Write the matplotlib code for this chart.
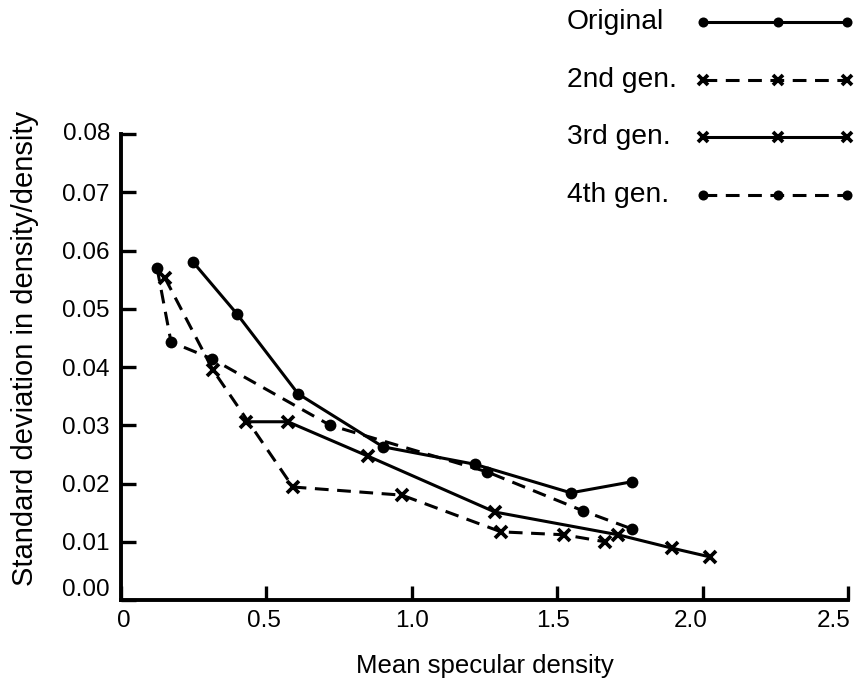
import matplotlib
matplotlib.use("Agg")
import matplotlib.pyplot as plt
from matplotlib.lines import Line2D
from matplotlib.transforms import ScaledTranslation

plt.rcParams['font.family'] = ['Liberation Sans', 'DejaVu Sans']

# Mean specular density (x) and relative standard deviation (y) per generation
orig_x = [0.248, 0.399, 0.609, 0.901, 1.217, 1.547, 1.757]
orig_y = [0.0580, 0.0491, 0.0354, 0.0263, 0.0233, 0.0184, 0.0203]

gen2_x = [0.151, 0.316, 0.591, 0.966, 1.307, 1.523, 1.664]
gen2_y = [0.0553, 0.0395, 0.0194, 0.0180, 0.0117, 0.0112, 0.0100]

gen3_x = [0.430, 0.574, 0.849, 1.286, 1.709, 1.895, 2.025]
gen3_y = [0.0306, 0.0306, 0.0247, 0.0151, 0.0112, 0.0089, 0.0074]

gen4_x = [0.124, 0.172, 0.313, 0.719, 1.259, 1.589, 1.757]
gen4_y = [0.0570, 0.0443, 0.0414, 0.0300, 0.0220, 0.0153, 0.0122]

series_labels = ["Original", "2nd gen.", "3rd gen.", "4th gen."]
x_ticks = [0, 0.5, 1.0, 1.5, 2.0, 2.5]
x_ticklabels = ["0", "0.5", "1.0", "1.5", "2.0", "2.5"]
y_ticks = [0.00, 0.01, 0.02, 0.03, 0.04, 0.05, 0.06, 0.07, 0.08]
y_ticklabels = ["0.00", "0.01", "0.02", "0.03", "0.04", "0.05", "0.06", "0.07", "0.08"]

LW = 2.2
DASH = (0, (4.5, 2.8))
styles = [
    dict(ls='-', marker='o', ms=8.5, mew=0),
    dict(ls=DASH, marker='x', ms=8.5, mew=2.7),
    dict(ls='-', marker='x', ms=8.5, mew=2.7),
    dict(ls=DASH, marker='o', ms=8.5, mew=0),
]

fig = plt.figure(figsize=(8.57, 6.81), dpi=100)
ax = fig.add_axes([121 / 857, 1 - 600 / 681, 727 / 857, 466 / 681])

data = [(orig_x, orig_y), (gen2_x, gen2_y), (gen3_x, gen3_y), (gen4_x, gen4_y)]
for (xs, ys), st in zip(data, styles):
    ax.plot(xs, ys, color='black', lw=LW, clip_on=False, **st)

ax.set_xlim(0, 2.5)
ax.set_ylim(0, 0.08)
ax.spines['top'].set_visible(False)
ax.spines['right'].set_visible(False)
for s in ('left', 'bottom'):
    ax.spines[s].set_linewidth(2.8)
    ax.spines[s].set_capstyle('projecting')

ax.set_xticks(x_ticks)
ax.set_xticklabels(x_ticklabels, fontsize=17.5)
ax.set_yticks(y_ticks)
ax.set_yticklabels(y_ticklabels, fontsize=17.5)
ax.tick_params(axis='x', direction='in', length=10, width=2.4, pad=7)
ax.tick_params(axis='y', direction='in', length=11, width=2.4, pad=8)

# nudge the right-most tick labels so they stay inside the figure
x_shift_px = [3, -2, 0, -4, -12, -14]
for lab, dx in zip(ax.get_xticklabels(), x_shift_px):
    lab.set_transform(lab.get_transform() + ScaledTranslation(dx / 100, 0, fig.dpi_scale_trans))
y_shift_px = [12, 0, 0, 0, 0, 0, 0, 0, 3]
for lab, dy in zip(ax.get_yticklabels(), y_shift_px):
    lab.set_transform(lab.get_transform() + ScaledTranslation(0, dy / 100, fig.dpi_scale_trans))

ax.set_xlabel("Mean specular density", fontsize=18.5, labelpad=16)
fig.text(25 / 857, 1 - 348 / 681, "Standard deviation in density/density",
         rotation=90, ha='center', va='center', fontsize=21)

# Key in the upper right corner
key_y = [22, 80, 137, 195]
key_mx = [703, 778, 847]
for label, st, yp in zip(series_labels, styles, key_y):
    yf = 1 - yp / 681
    fig.text(567 / 857, yf, label, ha='left', va='center', fontsize=20.3)
    fig.add_artist(Line2D([key_mx[0] / 857, key_mx[-1] / 857], [yf, yf],
                          color='black', lw=LW, ls=st['ls'],
                          transform=fig.transFigure))
    fig.add_artist(Line2D([m / 857 for m in key_mx], [yf] * 3, ls='none',
                          color='black', marker=st['marker'], ms=st['ms'] * 0.85,
                          mew=st['mew'], transform=fig.transFigure))

fig.savefig("out.png", dpi=100)
